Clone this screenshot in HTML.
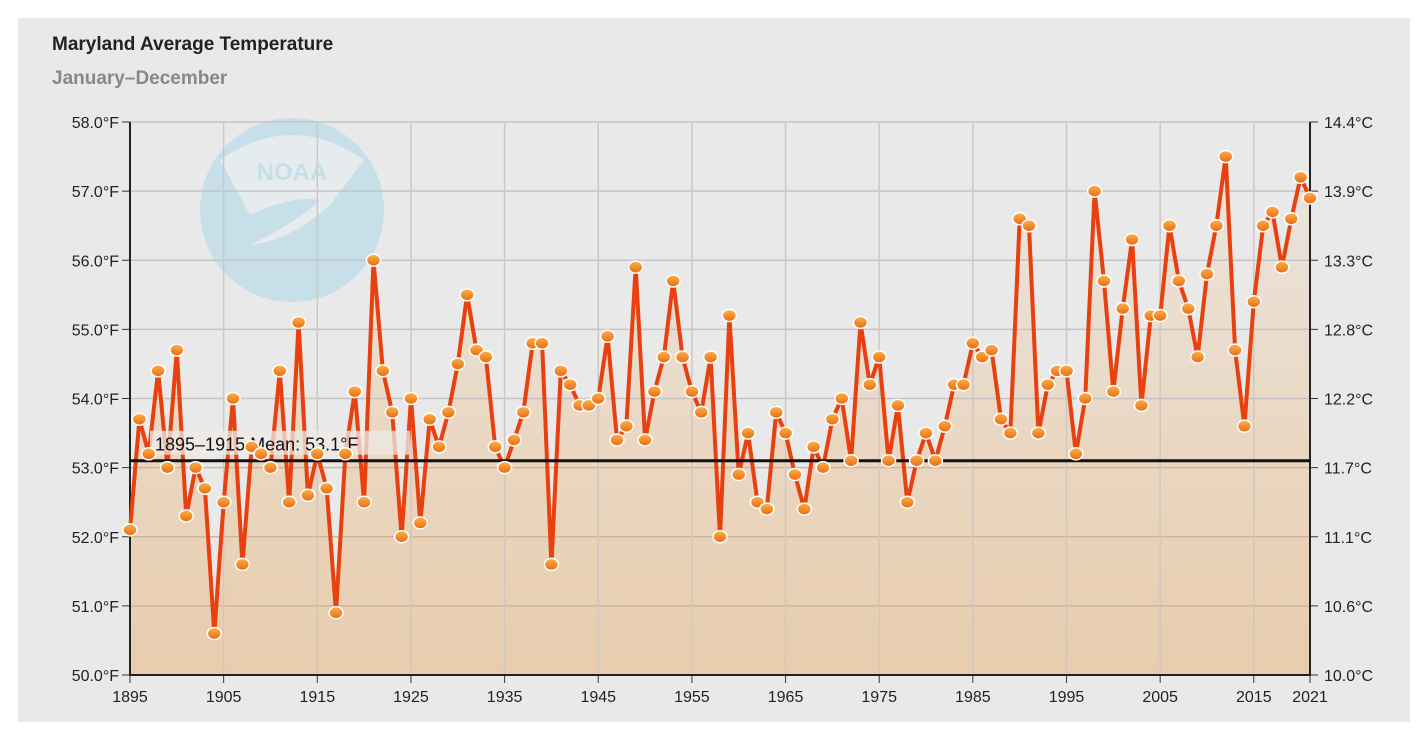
<!DOCTYPE html><html><head><style>body{margin:0;background:#fff}svg{display:block}text{font-family:"Liberation Sans",sans-serif}</style></head><body>
<svg id="s" width="1422" height="738" xmlns="http://www.w3.org/2000/svg">
<defs><linearGradient id="g" x1="0" y1="0" x2="0" y2="1"><stop offset="0" stop-color="#ece4dc"/><stop offset="1" stop-color="#e8c9a6"/></linearGradient>
<linearGradient id="d" x1="0" y1="0" x2="0" y2="1"><stop offset="0" stop-color="#fbb24a"/><stop offset="1" stop-color="#ea6a12"/></linearGradient></defs>
<rect x="18" y="18" width="1392" height="704" fill="#e9e9e9"/>
<text x="52" y="50" font-size="19" font-weight="bold" fill="#222">Maryland Average Temperature</text>
<text x="52" y="84" font-size="19" font-weight="bold" fill="#888">January–December</text>
<circle cx="292" cy="210" r="92" fill="#c6dfe8"/>
<path d="M220,160 Q292,110 364,160 L330,205 Q292,240 250,245 Q300,220 320,200 Q292,195 250,215 Z" fill="#e9ecee" opacity="0.9"/>
<text x="292" y="180" font-size="24" font-weight="bold" fill="#c6dfe8" text-anchor="middle">NOAA</text>
<g id="p"></g>
</svg>
<script>
var v=[52.1,53.7,53.2,54.4,53.0,54.7,52.3,53.0,52.7,50.6,52.5,54.0,51.6,53.3,53.2,53.0,54.4,52.5,55.1,52.6,53.2,52.7,50.9,53.2,54.1,52.5,56.0,54.4,53.8,52.0,54.0,52.2,53.7,53.3,53.8,54.5,55.5,54.7,54.6,53.3,53.0,53.4,53.8,54.8,54.8,51.6,54.4,54.2,53.9,53.9,54.0,54.9,53.4,53.6,55.9,53.4,54.1,54.6,55.7,54.6,54.1,53.8,54.6,52.0,55.2,52.9,53.5,52.5,52.4,53.8,53.5,52.9,52.4,53.3,53.0,53.7,54.0,53.1,55.1,54.2,54.6,53.1,53.9,52.5,53.1,53.5,53.1,53.6,54.2,54.2,54.8,54.6,54.7,53.7,53.5,56.6,56.5,53.5,54.2,54.4,54.4,53.2,54.0,57.0,55.7,54.1,55.3,56.3,53.9,55.2,55.2,56.5,55.7,55.3,54.6,55.8,56.5,57.5,54.7,53.6,55.4,56.5,56.7,55.9,56.6,57.2,56.9];
function X(y){return 130+(y-1895)*1180/126}function Y(t){return 122+(58-t)*69.125}
var h='',pts=v.map(function(t,i){return X(1895+i).toFixed(1)+','+Y(t).toFixed(1)}).join(' ');
h+='<polygon points="130,675 '+pts+' 1310,675" fill="url(#g)" opacity="0.9"/>';
for(var t=50;t<=58;t++){var y=Y(t);h+='<line x1="130" x2="1310" y1="'+y+'" y2="'+y+'" stroke="'+(t<54?'#d2b598':'#c4c4c4')+'" stroke-width="1.5"/>';
h+='<line x1="122" x2="130" y1="'+y+'" y2="'+y+'" stroke="#333"/><line x1="1310" x2="1318" y1="'+y+'" y2="'+y+'" stroke="#333"/>';
h+='<text x="119" y="'+(y+6)+'" font-size="16" text-anchor="end" fill="#222">'+t+'.0°F</text>';
var c=((t-32)*5/9).toFixed(1);h+='<text x="1324" y="'+(y+6)+'" font-size="16" fill="#222">'+c+'°C</text>';}
var yrs=[1895,1905,1915,1925,1935,1945,1955,1965,1975,1985,1995,2005,2015,2021];
yrs.forEach(function(yr){var x=X(yr);if(yr>1895&&yr<2021)h+='<line x1="'+x+'" x2="'+x+'" y1="122" y2="675" stroke="#cfc8c0" stroke-width="1.5"/>';
h+='<line x1="'+x+'" x2="'+x+'" y1="675" y2="683" stroke="#333"/><text x="'+x+'" y="702" font-size="16" text-anchor="middle" fill="#222">'+yr+'</text>';});
h+='<line x1="130" x2="130" y1="122" y2="676" stroke="#222" stroke-width="2"/><line x1="1310" x2="1310" y1="122" y2="676" stroke="#222" stroke-width="2"/><line x1="130" x2="1310" y1="675" y2="675" stroke="#222" stroke-width="2"/>';
h+='<polyline points="'+pts+'" fill="none" stroke="#e8400f" stroke-width="4" stroke-linejoin="miter"/>';
var my=Y(53.1);h+='<line x1="130" x2="1310" y1="'+my+'" y2="'+my+'" stroke="#111" stroke-width="3"/>';
h+='<rect x="150" y="'+(my-30)+'" width="260" height="24" fill="#eeeae6" opacity="0.75"/>';
h+='<text x="155" y="'+(my-10)+'" font-size="18" fill="#111">1895–1915 Mean: 53.1°F</text>';
v.forEach(function(t,i){h+='<ellipse cx="'+X(1895+i)+'" cy="'+Y(t)+'" rx="7" ry="6" fill="url(#d)" stroke="#fff" stroke-width="1.5"/>';});
document.getElementById('p').innerHTML=h;
</script></body></html>
